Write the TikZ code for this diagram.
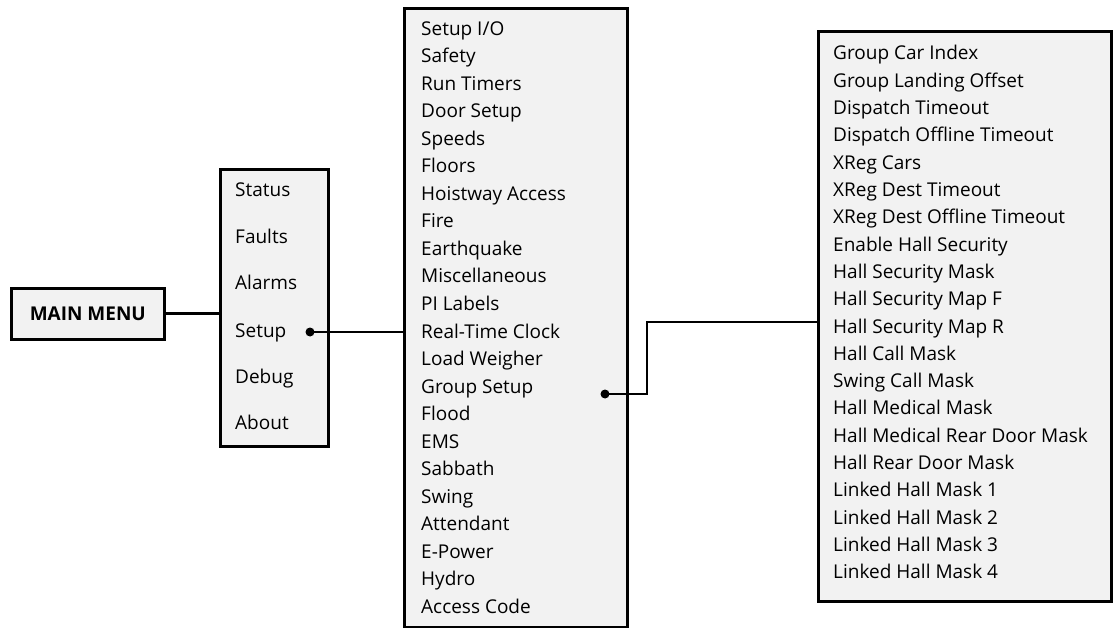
\documentclass[tikz,border=0pt]{standalone}
\usepackage{fontspec}
\setmainfont{Open Sans}
\usetikzlibrary{positioning}
\definecolor{boxgray}{HTML}{F2F2F2}

\begin{document}
\begin{tikzpicture}[x=1pt,y=-1pt,
menubox/.style = {draw=black,fill=boxgray,line width=2.6pt,
        inner sep=0pt,anchor=north west},
item/.style = {anchor=west,inner sep=0pt,text height=14pt,text depth=4pt,
        font=\fontsize{19}{22}\selectfont},
link/.style = {line width=2.2pt,black},
every node/.append style = {text=black}]

        \useasboundingbox (0,0) rectangle (1113,628);

        % boxes
        \node [menubox,minimum width=153pt,minimum height=51pt] (MainMenu_Box) at (10,287) {};
        \node [font=\fontsize{19}{22}\selectfont\bfseries] (MainMenu_Text) at (MainMenu_Box.center) {MAIN MENU};
        \node [menubox,minimum width=108pt,minimum height=277pt] (Menu_Box) at (219,168) {};
        \node [menubox,minimum width=223pt,minimum height=619pt] (Setup_Box) at (403,7) {};
        \node [menubox,minimum width=293pt,minimum height=570pt] (Group_Box) at (817,30) {};

        % main menu items
        \node [item] (Status) at (235,192) {Status};
        \node [item] (Faults) at (235,239) {Faults};
        \node [item] (Alarms) at (235,285) {Alarms};
        \node [item] (Setup) at (235,332) {Setup};
        \node [item] (Debug) at (235,378) {Debug};
        \node [item] (About) at (235,424) {About};

        % setup items
        \node [item] (Setup_IO) at (421,30.5) {Setup I/O};
        \node [item] (Safety) at (421,58) {Safety};
        \node [item] (Run_Timers) at (421,85.5) {Run Timers};
        \node [item] (Door_Setup) at (421,113) {Door Setup};
        \node [item] (Speeds) at (421,140.5) {Speeds};
        \node [item] (Floors) at (421,168) {Floors};
        \node [item] (Hoistway_Access) at (421,195.5) {Hoistway Access};
        \node [item] (Fire) at (421,223) {Fire};
        \node [item] (Earthquake) at (421,250.5) {Earthquake};
        \node [item] (Misc) at (421,278) {Miscellaneous};
        \node [item] (PI_Labels) at (421,305.5) {PI Labels};
        \node [item] (RT_Clock) at (421,333) {Real-Time Clock};
        \node [item] (Load_Weigher) at (421,360.5) {Load Weigher};
        \node [item] (Group_Setup) at (421,388) {Group Setup};
        \node [item] (Flood) at (421,415.5) {Flood};
        \node [item] (EMS) at (421,443) {EMS};
        \node [item] (Sabbath) at (421,470.5) {Sabbath};
        \node [item] (Swing) at (421,498) {Swing};
        \node [item] (Attendant) at (421,525.5) {Attendant};
        \node [item] (E_Power) at (421,553) {E-Power};
        \node [item] (Hydro) at (421,580.5) {Hydro};
        \node [item] (Access_Code) at (421,608) {Access Code};

        % group setup items
        \node [item] (Car_Index) at (833,55) {Group Car Index};
        \node [item] (Landing_Offset) at (833,82.3) {Group Landing Offset};
        \node [item] (Disp_TO) at (833,109.6) {Dispatch Timeout};
        \node [item] (Disp_Off_TO) at (833,136.9) {Dispatch Offline Timeout};
        \node [item] (XReg_Cars) at (833,164.2) {XReg Cars};
        \node [item] (XReg_TO) at (833,191.5) {XReg Dest Timeout};
        \node [item] (XReg_Off_TO) at (833,218.8) {XReg Dest Offline Timeout};
        \node [item] (Hall_Sec) at (833,246.1) {Enable Hall Security};
        \node [item] (Hall_Sec_Mask) at (833,273.4) {Hall Security Mask};
        \node [item] (Hall_Sec_F) at (833,300.7) {Hall Security Map F};
        \node [item] (Hall_Sec_R) at (833,328) {Hall Security Map R};
        \node [item] (Hall_Call) at (833,355.3) {Hall Call Mask};
        \node [item] (Swing_Call) at (833,382.6) {Swing Call Mask};
        \node [item] (Hall_Med) at (833,409.9) {Hall Medical Mask};
        \node [item] (Hall_Med_Rear) at (833,437.2) {Hall Medical Rear Door Mask};
        \node [item] (Hall_Rear) at (833,464.5) {Hall Rear Door Mask};
        \node [item] (Linked_1) at (833,491.8) {Linked Hall Mask 1};
        \node [item] (Linked_2) at (833,519.1) {Linked Hall Mask 2};
        \node [item] (Linked_3) at (833,546.4) {Linked Hall Mask 3};
        \node [item] (Linked_4) at (833,573.7) {Linked Hall Mask 4};

        % connectors
        \coordinate (Setup_Dot) at (310,332);
        \coordinate (Group_Dot) at (605,394);
        \coordinate (Group_Bend) at (647,322);
        \draw [link,line width=3pt] (MainMenu_Box.east) -- (MainMenu_Box.east -| Menu_Box.west);
        \draw [link] (Setup_Dot) -- (Setup_Dot -| Setup_Box.west);
        \draw [link] (Group_Dot) -- (Group_Dot -| Group_Bend) -- (Group_Bend) -- (Group_Bend -| Group_Box.west);
        \fill [black] (Setup_Dot) circle (4.5pt);
        \fill [black] (Group_Dot) circle (4.5pt);

    \end{tikzpicture}
\end{document}
